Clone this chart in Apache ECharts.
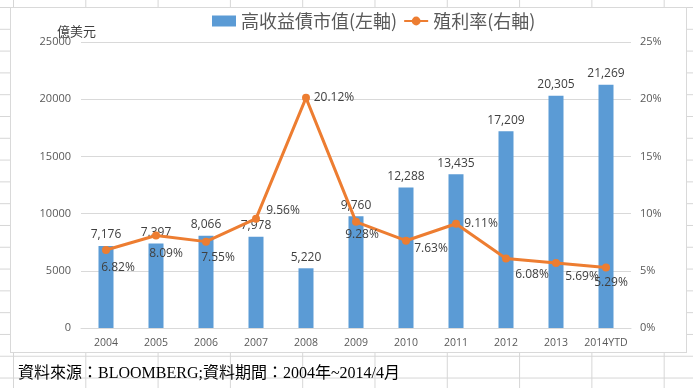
<!DOCTYPE html>
<html>
<head>
<meta charset="utf-8">
<script src="https://cdn.jsdelivr.net/npm/echarts@6/dist/echarts.min.js"></script>
<style>
html,body{margin:0;padding:0;width:693px;height:388px;overflow:hidden;}
body{
  background-color:#fff;
  background-image:
    linear-gradient(to right, #d6d6d6 1px, transparent 1px),
    linear-gradient(to bottom, #d6d6d6 1px, transparent 1px);
  background-size:72.3px 100%, 100% 21.8px;
  background-position:13px 0, 0 7px;
}
#box{position:absolute;left:10px;top:7px;width:677px;height:346px;box-sizing:border-box;border:1px solid #d9d9d9;background:#fff;}
#chart{position:absolute;left:0;top:0;width:693px;height:388px;}
</style>
</head>
<body>
<div id="box"></div>
<div id="chart"></div>
<script>
var categories = ['2004','2005','2006','2007','2008','2009','2010','2011','2012','2013','2014YTD'];
var marketValue = [7176, 7397, 8066, 7978, 5220, 9760, 12288, 13435, 17209, 20305, 21269];
var yieldRate = [6.82, 8.09, 7.55, 9.56, 20.12, 9.28, 7.63, 9.11, 6.08, 5.69, 5.29];
var leftTicks = [0, 5000, 10000, 15000, 20000, 25000];
var rightTicks = [0, 5, 10, 15, 20, 25];

// label offsets (styling only)
var yieldLabelOffsets = [[12,18],[10,18],[12,16],[27,-8],[28,0],[6,13],[25,8],[25,0],[26,16],[26,14],[5,15]];

var chart = echarts.init(document.getElementById('chart'), null, {renderer:'canvas'});
var axisLabelStyle = {color:'#595959', fontSize:11, fontFamily:'Open Sans, Noto Sans, sans-serif'};
var option = {
  backgroundColor:'transparent',
  animation:false,
  title:[
    {text:'億美元', left:52, top:20, textStyle:{fontSize:13, fontWeight:'normal', color:'#404040', fontFamily:'Noto Sans CJK TC'}},
    {text:'資料來源：BLOOMBERG;資料期間：2004年~2014/4月', left:13, top:361, textStyle:{fontSize:16, fontWeight:'normal', color:'#000', fontFamily:'Liberation Serif, Noto Sans CJK TC'}}
  ],
  legend:{
    left:207, top:7, itemGap:6, itemWidth:24, itemHeight:11,
    textStyle:{fontSize:18, color:'#595959', fontFamily:'Noto Sans CJK TC'},
    data:[{name:'高收益債市值(左軸)', icon:'rect'}, {name:'殖利率(右軸)'}]
  },
  grid:{left:81, right:62, top:42, bottom:60},
  xAxis:{
    type:'category', data:categories,
    axisLine:{lineStyle:{color:'#d9d9d9'}},
    axisTick:{show:false},
    axisLabel:Object.assign({margin:10, interval:0}, axisLabelStyle, {fontSize:10.5})
  },
  yAxis:[
    {type:'value', min:leftTicks[0], max:leftTicks[leftTicks.length-1], interval:leftTicks[1]-leftTicks[0],
     axisLine:{show:false}, axisTick:{show:false},
     splitLine:{lineStyle:{color:'#d9d9d9'}},
     axisLabel:Object.assign({margin:10, formatter:function(v){return String(v);}}, axisLabelStyle)},
    {type:'value', min:rightTicks[0], max:rightTicks[rightTicks.length-1], interval:rightTicks[1]-rightTicks[0],
     axisLine:{show:false}, axisTick:{show:false}, splitLine:{show:false},
     axisLabel:Object.assign({margin:9, formatter:'{value}%'}, axisLabelStyle)}
  ],
  series:[
    {name:'高收益債市值(左軸)', type:'bar', data:marketValue, barWidth:15,
     itemStyle:{color:'#5B9BD5'},
     label:{show:true, position:'top', distance:5, color:'#404040', fontSize:12, fontFamily:'Open Sans, Noto Sans, sans-serif',
       formatter:function(p){return p.value.toLocaleString('en-US');}}
    },
    {name:'殖利率(右軸)', type:'line', yAxisIndex:1,
     data:yieldRate.map(function(v,i){return {value:v, label:{offset:yieldLabelOffsets[i]}};}),
     symbol:'circle', symbolSize:8,
     lineStyle:{color:'#ED7D31', width:3}, itemStyle:{color:'#ED7D31'},
     label:{show:true, position:'inside', color:'#404040', fontSize:12, fontFamily:'Open Sans, Noto Sans, sans-serif',
       formatter:function(p){return p.value.toFixed(2)+'%';}}
    }
  ]
};
chart.setOption(option);
</script>
</body>
</html>
